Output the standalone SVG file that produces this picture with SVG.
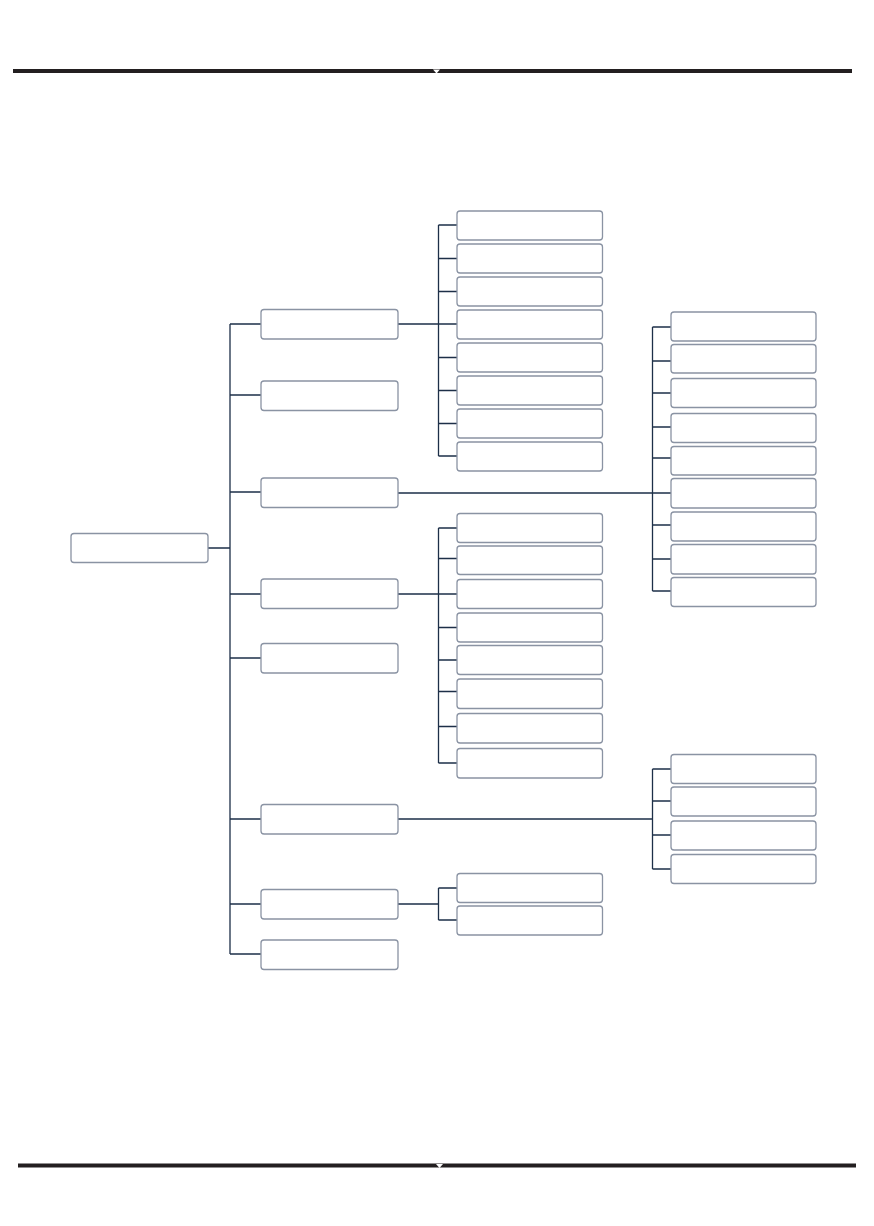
<svg xmlns="http://www.w3.org/2000/svg" width="874" height="1226" viewBox="0 0 874 1226">
<style>
.box{fill:#ffffff;stroke:#8a93a3;stroke-width:1.3}
.ln{fill:none;stroke:#1d2f48;stroke-width:1.3}
.bar{fill:#231f20}
</style>
<rect width="874" height="1226" fill="#ffffff"/>
<g id="frame">
<rect class="bar" x="13" y="69" width="839" height="4"/>
<polygon points="433,69.5 440,69.5 436.5,73.5" fill="#ffffff"/>
<rect class="bar" x="18" y="1163.5" width="838" height="4"/>
<polygon points="436,1164 443,1164 439.5,1168" fill="#ffffff"/>
</g>
<g id="connectors">
<path class="ln" d="M208,548 H230 M230,324 V954 M230,324 H261 M230,395 H261 M230,492 H261 M230,594 H261 M230,658 H261 M230,819 H261 M230,904 H261 M230,954 H261"/>
<path class="ln" d="M398,324 H457 M438.5,225 V456 M438.5,225 H457 M438.5,258.5 H457 M438.5,291.5 H457 M438.5,357.5 H457 M438.5,390.5 H457 M438.5,423.5 H457 M438.5,456 H457"/>
<path class="ln" d="M398,493 H671 M652.5,327 V591 M652.5,327 H671 M652.5,361 H671 M652.5,393 H671 M652.5,427 H671 M652.5,458 H671 M652.5,525 H671 M652.5,559 H671 M652.5,591 H671"/>
<path class="ln" d="M398,594 H457 M438.5,528 V763 M438.5,528 H457 M438.5,558.5 H457 M438.5,627.5 H457 M438.5,660 H457 M438.5,691.5 H457 M438.5,726.5 H457 M438.5,763 H457"/>
<path class="ln" d="M398,819 H653 M652.5,769 V869 M652.5,769 H671 M652.5,801 H671 M652.5,835 H671 M652.5,869 H671"/>
<path class="ln" d="M398,904 H438.5 M438.5,888 V920 M438.5,888 H457 M438.5,920 H457"/>
</g>
<g id="root"><rect class="box" x="71" y="533.5" width="137" height="29" rx="3"/></g>
<g id="n1"><rect class="box" x="261" y="309.5" width="137" height="29.5" rx="3"/></g>
<g id="n2"><rect class="box" x="261" y="381" width="137" height="29.5" rx="3"/></g>
<g id="n3"><rect class="box" x="261" y="478" width="137" height="29.5" rx="3"/></g>
<g id="n4"><rect class="box" x="261" y="579" width="137" height="29.5" rx="3"/></g>
<g id="n5"><rect class="box" x="261" y="643.5" width="137" height="29.5" rx="3"/></g>
<g id="n6"><rect class="box" x="261" y="804.5" width="137" height="29.5" rx="3"/></g>
<g id="n7"><rect class="box" x="261" y="889.5" width="137" height="29.5" rx="3"/></g>
<g id="n8"><rect class="box" x="261" y="940" width="137" height="29.5" rx="3"/></g>
<g id="a1"><rect class="box" x="457" y="211" width="145.5" height="29" rx="3"/></g>
<g id="a2"><rect class="box" x="457" y="244" width="145.5" height="29" rx="3"/></g>
<g id="a3"><rect class="box" x="457" y="277" width="145.5" height="29" rx="3"/></g>
<g id="a4"><rect class="box" x="457" y="310" width="145.5" height="29" rx="3"/></g>
<g id="a5"><rect class="box" x="457" y="343" width="145.5" height="29" rx="3"/></g>
<g id="a6"><rect class="box" x="457" y="376" width="145.5" height="29" rx="3"/></g>
<g id="a7"><rect class="box" x="457" y="409" width="145.5" height="29" rx="3"/></g>
<g id="a8"><rect class="box" x="457" y="442" width="145.5" height="29" rx="3"/></g>
<g id="b1"><rect class="box" x="457" y="513.5" width="145.5" height="29" rx="3"/></g>
<g id="b2"><rect class="box" x="457" y="546" width="145.5" height="28.5" rx="3"/></g>
<g id="b3"><rect class="box" x="457" y="579.5" width="145.5" height="29" rx="3"/></g>
<g id="b4"><rect class="box" x="457" y="613" width="145.5" height="29" rx="3"/></g>
<g id="b5"><rect class="box" x="457" y="645.5" width="145.5" height="29" rx="3"/></g>
<g id="b6"><rect class="box" x="457" y="679" width="145.5" height="29.5" rx="3"/></g>
<g id="b7"><rect class="box" x="457" y="713.5" width="145.5" height="29.5" rx="3"/></g>
<g id="b8"><rect class="box" x="457" y="748.5" width="145.5" height="29.5" rx="3"/></g>
<g id="c1"><rect class="box" x="671" y="312" width="145" height="29" rx="3"/></g>
<g id="c2"><rect class="box" x="671" y="344.5" width="145" height="28.5" rx="3"/></g>
<g id="c3"><rect class="box" x="671" y="378.5" width="145" height="29" rx="3"/></g>
<g id="c4"><rect class="box" x="671" y="413.5" width="145" height="29" rx="3"/></g>
<g id="c5"><rect class="box" x="671" y="446.5" width="145" height="28.5" rx="3"/></g>
<g id="c6"><rect class="box" x="671" y="478.5" width="145" height="29.5" rx="3"/></g>
<g id="c7"><rect class="box" x="671" y="512" width="145" height="29" rx="3"/></g>
<g id="c8"><rect class="box" x="671" y="544.5" width="145" height="29.5" rx="3"/></g>
<g id="c9"><rect class="box" x="671" y="577.5" width="145" height="29" rx="3"/></g>
<g id="d1"><rect class="box" x="671" y="754.5" width="145" height="29" rx="3"/></g>
<g id="d2"><rect class="box" x="671" y="787" width="145" height="29" rx="3"/></g>
<g id="d3"><rect class="box" x="671" y="821" width="145" height="29" rx="3"/></g>
<g id="d4"><rect class="box" x="671" y="854.5" width="145" height="29" rx="3"/></g>
<g id="e1"><rect class="box" x="457" y="873.5" width="145.5" height="29" rx="3"/></g>
<g id="e2"><rect class="box" x="457" y="906" width="145.5" height="29" rx="3"/></g>
</svg>
